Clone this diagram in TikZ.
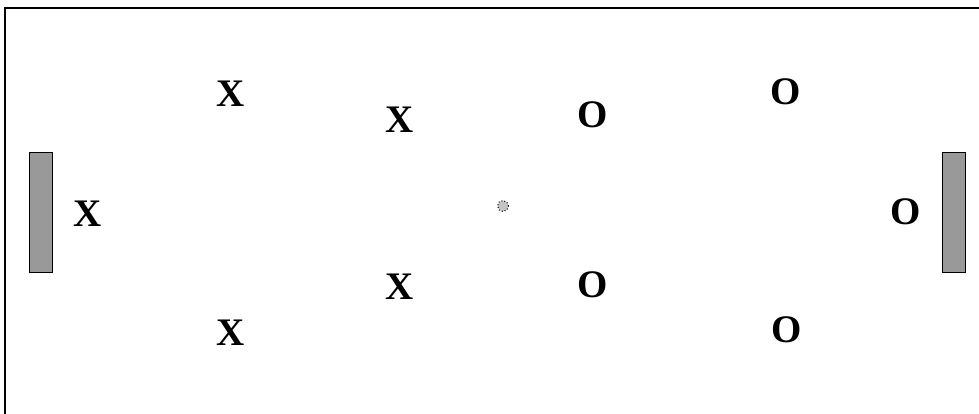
\documentclass[tikz,border=0pt]{standalone}
\usepackage{fontspec}
\setmainfont{Liberation Serif}
\usetikzlibrary{positioning}
\definecolor{goalgray}{HTML}{999999}
\definecolor{ballgray}{HTML}{C4C4C4}
\tikzset{
field/.style={draw,line width=2.5pt},
goal/.style={draw,line width=1pt,fill=goalgray,minimum width=23pt,minimum height=119pt,inner sep=0pt},
player/.style={font=\fontsize{39}{39}\selectfont\bfseries,inner sep=0pt},
ball/.style={circle,draw,dotted,line width=1pt,fill=ballgray,minimum size=11pt,inner sep=0pt}
}
\begin{document}
\begin{tikzpicture}[x=1pt,y=-1pt]
\useasboundingbox (0,0) rectangle (979,414);
\clip (0,0) rectangle (979,414);
\draw[field] (5,8) rectangle (1000,440);
% goals
\node[goal] (gl) at (41,212.5) {};
\node[goal] (gr) at (953.5,212.5) {};
% ball
\node[ball] (b) at (503,206) {};
% team X
\node[player] (xk) at (88,214) {X};
\node[player] (x1) at (231,94) {X};
\node[player] (x2) at (400,120) {X};
\node[player] (x3) at (400,287) {X};
\node[player] (x4) at (231,333) {X};
% team O
\node[player] (ok) at (906,212) {O};
\node[player] (o1) at (593,115) {O};
\node[player] (o2) at (786,92) {O};
\node[player] (o3) at (593,285) {O};
\node[player] (o4) at (787,330) {O};
\end{tikzpicture}
\end{document}
